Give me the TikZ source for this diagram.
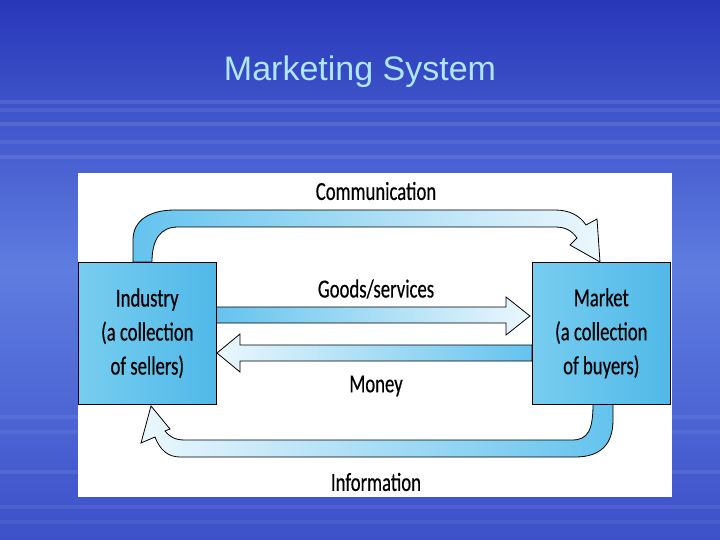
\documentclass[tikz,border=0pt]{standalone}
\usepackage{fontspec}
\setmainfont{Carlito}
\newfontfamily\titlefont{Liberation Sans}
\begin{document}
\begin{tikzpicture}[x=1pt,y=-1pt,
  band/.style={draw=black,line width=0.8pt,line join=miter},
  boxst/.style={draw=black,line width=0.6pt,inner sep=0pt,minimum width=138pt,minimum height=142pt,left color=boxL,right color=boxR,align=center,font=\fontsize{26}{34}\selectfont\addfontfeatures{FakeStretch=0.72,FakeBold=0.4}},
  lbl/.style={font=\fontsize{26}{30}\selectfont\addfontfeatures{FakeStretch=0.72,FakeBold=0.4}}]
\definecolor{bgTop}{RGB}{40,55,185}
\definecolor{bgMid}{RGB}{95,125,225}
\definecolor{bgBot}{RGB}{60,80,200}
\definecolor{boxL}{RGB}{120,205,240}
\definecolor{boxR}{RGB}{80,185,232}
\definecolor{arC}{RGB}{100,195,238}
\definecolor{arP}{RGB}{235,247,253}
\definecolor{titleC}{RGB}{175,230,250}
\useasboundingbox (0,0) rectangle (720,540);
\fill[top color=bgTop,bottom color=bgMid] (0,0) rectangle (720,270);
\fill[top color=bgMid,bottom color=bgBot] (0,270) rectangle (720,540);
\foreach \y/\o in {100/0.10,108/0.08,122/0.10,140/0.07,155/0.09,415/0.07,430/0.06,470/0.08,505/0.07,520/0.06}
  \fill[white,opacity=\o] (0,\y) rectangle (720,\y+4);
\node[font=\titlefont\fontsize{34}{40}\selectfont,text=titleC] (title) at (360,72) {Marketing System};
\fill[white] (78,173) rectangle (672,497);
% top arrow: Communication
\path[band,left color=arC,right color=arP]
 (133,262) -- (133,240) .. controls (133,220) and (150,210) .. (175,210)
 -- (555,210) .. controls (570,210) and (580,216) .. (586,225)
 -- (597,219) -- (600,262) -- (570,245) -- (577,238) .. controls (572,231) and (566,227) .. (555,227)
 -- (178,227) .. controls (160,227) and (152,240) .. (152,262) -- cycle;
% bottom arrow: Information
\path[band,right color=arC,left color=arP]
 (613,404) -- (613,420) .. controls (613,445) and (600,457) .. (575,457)
 -- (180,457) .. controls (168,457) and (160,450) .. (155,437)
 -- (141,443) -- (151,406) -- (170,429) -- (165,431) .. controls (170,437) and (175,440) .. (185,440)
 -- (572,440) .. controls (588,440) and (593,430) .. (593,404) -- cycle;
% goods arrow
\path[band,left color=arC,right color=arP]
 (216,307) -- (506,307) -- (506,297) -- (530,316) -- (506,335) -- (506,323) -- (216,323) -- cycle;
% money arrow
\path[band,right color=arC,left color=arP]
 (532,345) -- (240,345) -- (240,334) -- (217,353) -- (240,372) -- (240,361) -- (532,361) -- cycle;
\node[boxst,anchor=north west] (ind) at (78,262) {Industry\\(a collection\\of sellers)};
\node[boxst,anchor=north west] (mkt) at (532,262) {Market\\(a collection\\of buyers)};
\node[lbl] (comm) at (376,191) {Communication};
\node[lbl] (goods) at (376,289) {Goods/services};
\node[lbl] (money) at (376,386) {Money};
\node[lbl] (info) at (376,482) {Information};
\end{tikzpicture}
\end{document}
